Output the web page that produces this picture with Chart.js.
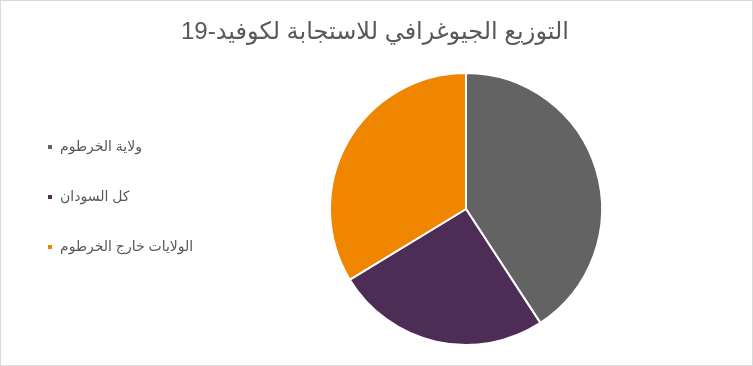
<!DOCTYPE html>
<html>
<head>
<meta charset="utf-8">
<script src="https://cdn.jsdelivr.net/npm/chart.js@4/dist/chart.umd.min.js"></script>
<style>
  body { margin: 0; background: #fff; }
  #wrap {
    width: 753px; height: 366px;
    box-sizing: border-box;
    border: 1px solid #d9d9d9;
  }
  canvas { display: block; }
</style>
</head>
<body>
<div id="wrap"><canvas id="pie" width="751" height="364"></canvas></div>
<script>
const chartTitle = 'التوزيع الجيوغرافي للاستجابة لكوفيد-19';
const regions = ['ولاية الخرطوم', 'كل السودان', 'الولايات خارج الخرطوم'];
const shares = [40.8, 25.5, 33.7];
const sliceColors = ['#636363', '#4d2d55', '#f08500'];

const fontFamily = '"Liberation Sans", "DejaVu Sans", Arial, sans-serif';
const legendWidth = 182;

// widen the legend box so the pie sits where it should
const legendWidthPlugin = {
  id: 'legendWidth',
  beforeInit(chart) {
    const origFit = chart.legend.fit;
    chart.legend.fit = function () {
      origFit.bind(chart.legend)();
      this.width = legendWidth;
    };
  }
};

new Chart(document.getElementById('pie'), {
  type: 'pie',
  data: {
    labels: regions,
    datasets: [{
      data: shares,
      backgroundColor: sliceColors,
      borderColor: '#ffffff',
      borderWidth: 2
    }]
  },
  options: {
    responsive: false,
    animation: false,
    layout: {
      padding: { top: 0, bottom: 19, left: 10, right: 13 }
    },
    plugins: {
      tooltip: { enabled: false },
      title: {
        display: true,
        text: chartTitle,
        color: '#595959',
        font: { family: fontFamily, size: 24, weight: 'normal', lineHeight: 1.25 },
        padding: { top: 16, bottom: 25 }
      },
      legend: {
        position: 'left',
        // empty title just pushes the items down a bit
        title: {
          display: true,
          text: ' ',
          font: { size: 10, lineHeight: 1 },
          padding: { top: 37, bottom: 0 }
        },
        labels: {
          color: '#595959',
          font: { family: fontFamily, size: 14 },
          boxWidth: 6,
          boxHeight: 6,
          padding: 36
        }
      }
    }
  },
  plugins: [legendWidthPlugin]
});
</script>
</body>
</html>
